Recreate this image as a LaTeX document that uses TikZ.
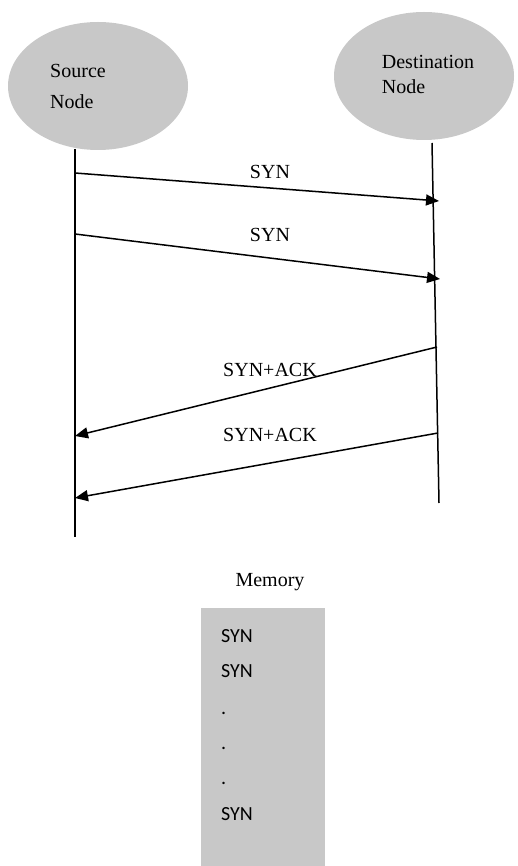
\documentclass[tikz,border=0pt]{standalone}
\usepackage{fontspec}
\setmainfont{Liberation Serif}
\newfontfamily\memfont{Carlito}
\usetikzlibrary{shapes.geometric,arrows.meta,positioning}
\definecolor{hostgray}{RGB}{200,200,200}
\tikzset{
	host/.style={ellipse, fill=hostgray, minimum width=180pt, minimum height=128pt, inner sep=0pt},
	hostlbl/.style={align=left, inner sep=0pt, font=\fontsize{20}{29}\selectfont},
	life/.style={line width=1.5pt},
	msg/.style={line width=1.5pt, -{Triangle[length=13pt,width=11pt]}},
	msglbl/.style={inner sep=0pt, font=\fontsize{20}{24}\selectfont},
	memlbl/.style={inner sep=0pt, anchor=base west, font=\memfont\fontsize{20}{24}\selectfont}
}
\begin{document}
\begin{tikzpicture}[x=1pt, y=-1pt]
	\useasboundingbox (0,0) rectangle (517,866);
	% Knoten
	\node[host] (src) at (98,86) {};
	\node[host] (dst) at (424,76) {};
	\node[hostlbl, font=\fontsize{20}{31}\selectfont] (srclbl) at (78,86) {Source\\Node};
	\node[hostlbl, font=\fontsize{20}{25}\selectfont] (dstlbl) at (428,74) {Destination\\Node};
	% Lebenslinien
	\coordinate (srctop) at (75,149);
	\coordinate (srcbot) at (75,537);
	\coordinate (dsttop) at (432,143);
	\coordinate (dstbot) at (439,503);
	\draw[life] (srctop) -- (srcbot);
	\draw[life] (dsttop) -- (dstbot);
	% Nachrichten
	\coordinate (s1) at (75,173);  \coordinate (d1) at (439,201);
	\coordinate (s2) at (75,234);  \coordinate (d2) at (440,279);
	\coordinate (d3) at (437,347); \coordinate (s3) at (75,436);
	\coordinate (d4) at (438,433); \coordinate (s4) at (75,498);
	\draw[msg] (s1) -- (d1);
	\draw[msg] (s2) -- (d2);
	\draw[msg] (d3) -- (s3);
	\draw[msg] (d4) -- (s4);
	\node[msglbl] (syn1) at (270,172) {SYN};
	\node[msglbl] (syn2) at (270,235) {SYN};
	\node[msglbl] (ack1) at (270,370) {SYN+ACK};
	\node[msglbl] (ack2) at (270,435) {SYN+ACK};
	% Speicher
	\node[msglbl] (memtitle) at (270,582) {Memory};
	\node[fill=hostgray, anchor=north west, minimum width=124pt, minimum height=262pt, inner sep=0pt] (mem) at (201,608) {};
	\foreach \t/\y [count=\i] in {SYN/642, SYN/677, ./714, ./749, ./784, SYN/820} {
		\node[memlbl] (m\i) at (221,\y) {\t};
	}
\end{tikzpicture}
\end{document}
